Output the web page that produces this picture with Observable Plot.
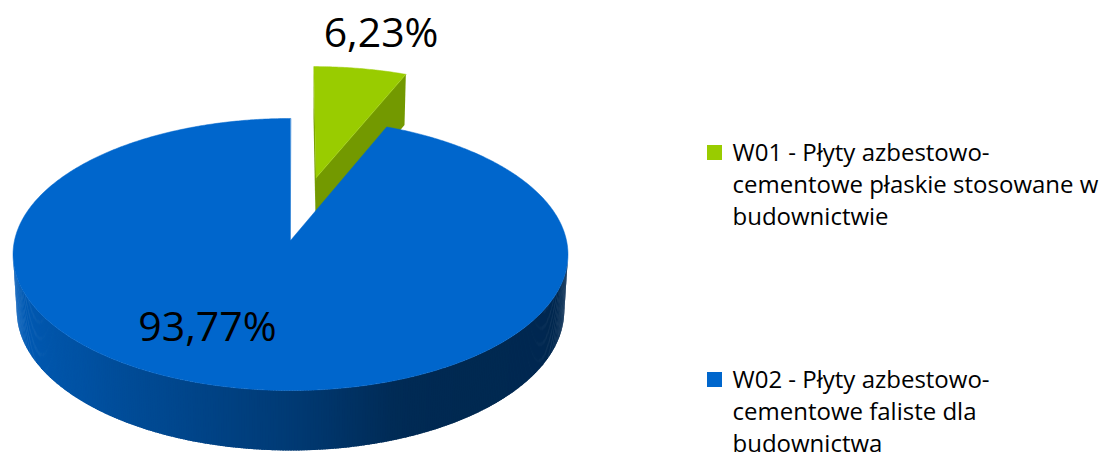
<!DOCTYPE html>
<html>
<head>
<meta charset="utf-8">
<script src="https://cdn.jsdelivr.net/npm/d3@7"></script>
<script src="https://cdn.jsdelivr.net/npm/@observablehq/plot@0.6"></script>
<style>
  html, body { margin: 0; padding: 0; background: #fff; }
  #chart svg { display: block; }
</style>
</head>
<body>
<div id="chart"></div>
<script>
// ---- data ----
const categories = ["W01", "W02"];
const shares = [6.23, 93.77];
const valueLabels = ["6,23%", "93,77%"];
const legendLines = [
  ["W01 - Płyty azbestowo-", "cementowe płaskie stosowane w", "budownictwie"],
  ["W02 - Płyty azbestowo-", "cementowe faliste dla", "budownictwa"]
];
const sliceColors = ["#99CC00", "#0066CC"];
const explode = [0.5, 0];

// ---- layout ----
const W = 1099, HGT = 458;
const FONT = "'Open Sans', Lato, sans-serif";
const cam = {cx: 290, cy: 240, S: 2341, R: 0.1179, sinP: 0.4876, depth: 0.0277};
const cosP = Math.sqrt(1 - cam.sinP * cam.sinP);
const labelTweak = [{dAngle: 1.2, r: 1.36}, {dAngle: 13.7, r: 0.67}];
const legendLayout = {x: 707, sq: 15, textX: 732, tops: [145, 372], lineH: 32.3, fontSize: 24};

function proj([X, Y, Z]) {
  const d = 1 + Y * cosP - Z * cam.sinP;
  const v = Y * cam.sinP + Z * cosP;
  return [cam.cx + cam.S * X / d, cam.cy - cam.S * v / d];
}
function signedArea(p) {
  let s = 0;
  for (let i = 0; i < p.length; i++) {
    const a = p[i], b = p[(i + 1) % p.length];
    s += a[0] * b[1] - b[0] * a[1];
  }
  return s / 2;
}
function shade(c, f) {
  const k = d3.rgb(c);
  return d3.rgb(k.r * f, k.g * f, k.b * f).formatHex();
}
const sideLight = d3.scaleLinear()
  .domain([90, 150, 160, 180, 200, 225, 250, 270])
  .range([0.39, 0.40, 0.42, 0.57, 0.68, 0.80, 0.88, 0.93])
  .clamp(true);
const cutFaceLight = 0.75;

const R = cam.R, Hd = cam.depth;
const arcs = d3.pie().sort(null)(shares);
const slices = arcs.map((a, i) => {
  const mid = (a.startAngle + a.endAngle) / 2;
  const e = explode[i] * R;
  return {i, a0: a.startAngle, a1: a.endAngle, mid, ox: e * Math.sin(mid), oy: e * Math.cos(mid)};
});

const rows = [];
let pid = 0;
function addPoly(pts3, color, cull, kind) {
  const p = pts3.map(proj);
  if (cull && signedArea(p) >= 0) return;
  const id = pid++;
  for (const [x, y] of p) rows.push({id, x, y, color, kind});
}

const drawOrder = slices.slice().sort((p, q) => Math.cos(q.mid) - Math.cos(p.mid));
for (const s of drawOrder) {
  const col = sliceColors[s.i];
  const rim = (t, z) => [s.ox + R * Math.sin(t), s.oy + R * Math.cos(t), z];
  const apex = z => [s.ox, s.oy, z];
  const step = 0.5 * Math.PI / 180;
  const n = Math.max(2, Math.ceil((s.a1 - s.a0) / step));
  const ts = d3.range(n + 1).map(k => s.a0 + (s.a1 - s.a0) * k / n);
  // curved side (each strip overlaps the next one a little to hide seams)
  for (let k = 0; k < n; k++) {
    const t1 = ts[k], t2 = Math.min(s.a1, ts[k + 1] + step * 0.7);
    const deg = ((ts[k] + ts[k + 1]) / 2) * 180 / Math.PI;
    addPoly([rim(t1, 0), rim(t2, 0), rim(t2, -Hd), rim(t1, -Hd)], shade(col, sideLight(deg)), true, "side");
  }
  // cut faces
  addPoly([apex(0), rim(s.a0, 0), rim(s.a0, -Hd), apex(-Hd)], shade(col, cutFaceLight * 1.03), true, "face");
  addPoly([rim(s.a1, 0), apex(0), apex(-Hd), rim(s.a1, -Hd)], shade(col, cutFaceLight), true, "face");
  // top face
  addPoly([apex(0), ...ts.map(t => rim(t, 0))], col, false, "top");
}

const valueRows = slices.map(s => {
  const tw = labelTweak[s.i];
  const t = s.mid + tw.dAngle * Math.PI / 180;
  const [x, y] = proj([s.ox + tw.r * R * Math.sin(t), s.oy + tw.r * R * Math.cos(t), 0]);
  return {x, y, text: valueLabels[s.i]};
});

const legendRects = categories.map((c, i) => {
  const y0 = legendLayout.tops[i];
  return {x1: legendLayout.x, x2: legendLayout.x + legendLayout.sq, y1: y0, y2: y0 + legendLayout.sq, color: sliceColors[i]};
});
const legendText = [];
legendLines.forEach((lines, i) => {
  lines.forEach((t, j) => {
    legendText.push({
      x: legendLayout.textX,
      y: legendLayout.tops[i] + legendLayout.sq + j * legendLayout.lineH,
      text: t
    });
  });
});

const chart = Plot.plot({
  width: W,
  height: HGT,
  margin: 0,
  x: {domain: [0, W], range: [0, W], axis: null},
  y: {domain: [0, HGT], range: [0, HGT], axis: null},
  color: {type: "identity"},
  style: {background: "#fff", fontFamily: FONT},
  marks: [
    Plot.line(rows, {filter: d => d.kind !== "top", x: "x", y: "y", z: "id", fill: "color", stroke: "none", curve: "linear-closed"}),
    Plot.line(rows, {filter: d => d.kind === "top", x: "x", y: "y", z: "id", fill: "color", stroke: "color", strokeWidth: 0.5, curve: "linear-closed"}),
    Plot.text(valueRows, {x: "x", y: "y", text: "text", fontSize: 41, fill: "#000", textAnchor: "middle", fontFamily: FONT}),
    Plot.rect(legendRects, {x1: "x1", x2: "x2", y1: "y1", y2: "y2", fill: "color"}),
    Plot.text(legendText, {x: "x", y: "y", text: "text", fontSize: legendLayout.fontSize, fill: "#000", textAnchor: "start", lineAnchor: "bottom", fontFamily: FONT})
  ]
});
document.getElementById("chart").appendChild(chart);
</script>
</body>
</html>
